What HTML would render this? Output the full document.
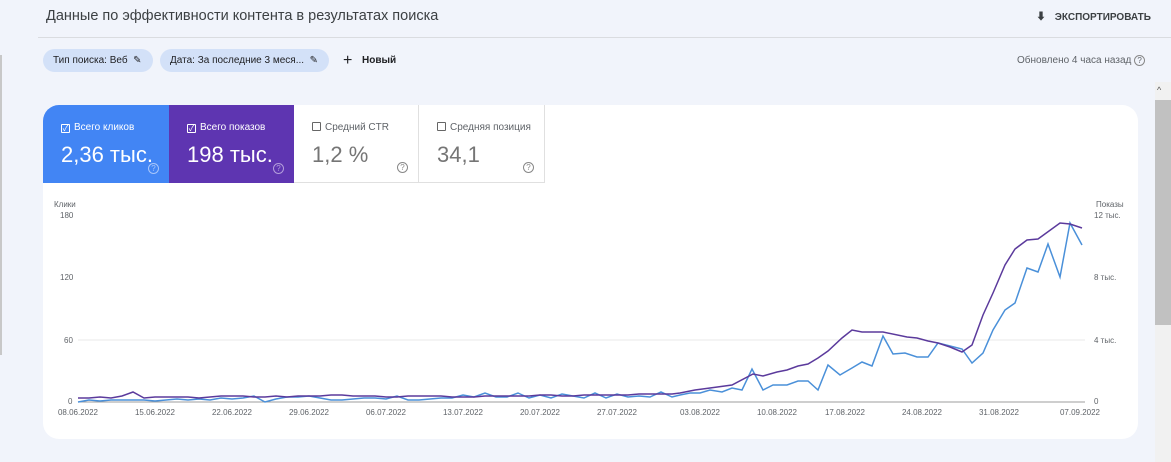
<!DOCTYPE html>
<html><head><meta charset="utf-8">
<style>
*{margin:0;padding:0;box-sizing:border-box}
body{width:1171px;height:462px;background:#f1f4fb;font-family:"Liberation Sans","Noto Sans CJK SC",sans-serif;position:relative;overflow:hidden;color:#3c4043}
.abs{position:absolute}
.chip{position:absolute;top:49px;height:23px;background:#d3e1f8;border-radius:12px;font-size:10px;line-height:23px;padding-left:10px;color:#202124}
.tile{position:absolute;top:105px;height:78px;width:125px}
.tile .lab{position:absolute;left:18px;top:17px;font-size:10px}
.tile .val{position:absolute;left:18px;top:37px;font-size:22px}
.cb{display:inline-block;width:9px;height:9px;border:1px solid;border-radius:1px;vertical-align:-1px;margin-right:4px;position:relative;font-size:8px;line-height:7px;text-align:center}
.q{position:absolute;right:10px;bottom:9px;width:11px;height:11px;border:1px solid;border-radius:50%;font-size:8px;line-height:9px;text-align:center}
.tick{position:absolute;font-size:8px;color:#5f6368}
</style></head><body>
<div class="abs" style="left:0;top:55px;width:2px;height:300px;background:#c8c8c8"></div>
<div class="abs" style="left:46px;top:8px;font-size:14.5px;color:#3c4043">Данные по эффективности контента в результатах поиска</div>
<div class="abs" style="left:1036px;top:8px;font-size:10px;font-weight:bold;color:#3c4043">⬇ <span style="margin-left:6px">ЭКСПОРТИРОВАТЬ</span></div>
<div class="abs" style="left:38px;top:37px;width:1133px;height:1px;background:#dadce0"></div>
<div class="chip" style="left:43px;width:110px">Тип поиска: Веб &nbsp;✎</div>
<div class="chip" style="left:160px;width:169px">Дата: За последние 3 меся... &nbsp;✎</div>
<div class="abs" style="left:343px;top:52px;font-size:16px;color:#202124">+</div>
<div class="abs" style="left:362px;top:55px;font-size:10px;font-weight:bold;color:#202124">Новый</div>
<div class="abs" style="left:1017px;top:55px;font-size:10px;color:#5f6368">Обновлено 4 часа назад <span style="display:inline-block;width:11px;height:11px;border:1px solid #888;border-radius:50%;font-size:8px;line-height:9px;text-align:center">?</span></div>
<div class="abs" style="left:1155px;top:82px;width:16px;height:380px;background:#f1f1f1"></div>
<div class="abs" style="left:1157px;top:85px;font-size:9px;color:#555">^</div>
<div class="abs" style="left:1155px;top:100px;width:16px;height:225px;background:#c1c1c1"></div>
<div class="abs" style="left:43px;top:105px;width:1095px;height:334px;background:#fff;border-radius:16px"></div>
<div class="tile" style="left:43px;width:126px;background:#4285f4;color:#fff;border-top-left-radius:16px"><div class="lab"><span class="cb" style="border-color:#fff">✓</span>Всего кликов</div><div class="val">2,36 тыс.</div><div class="q" style="border-color:#a8c6fa;color:#a8c6fa">?</div></div>
<div class="tile" style="left:169px;background:#5e35b1;color:#fff"><div class="lab"><span class="cb" style="border-color:#fff">✓</span>Всего показов</div><div class="val">198 тыс.</div><div class="q" style="border-color:#b39ddb;color:#b39ddb">?</div></div>
<div class="tile" style="left:294px;border-right:1px solid #e0e0e0;border-bottom:1px solid #e0e0e0;color:#5f6368"><div class="lab"><span class="cb" style="border-color:#666"></span>Средний CTR</div><div class="val" style="color:#757575">1,2 %</div><div class="q" style="border-color:#888;color:#888">?</div></div>
<div class="tile" style="left:419px;width:126px;border-right:1px solid #e0e0e0;border-bottom:1px solid #e0e0e0;color:#5f6368"><div class="lab"><span class="cb" style="border-color:#666"></span>Средняя позиция</div><div class="val" style="color:#757575">34,1</div><div class="q" style="border-color:#888;color:#888">?</div></div>
<div class="tick" style="left:54px;top:200px">Клики</div>
<div class="tick" style="left:60px;top:211px">180</div>
<div class="tick" style="left:60px;top:273px">120</div>
<div class="tick" style="left:64px;top:336px">60</div>
<div class="tick" style="left:68px;top:397px">0</div>
<div class="tick" style="left:1096px;top:200px">Показы</div>
<div class="tick" style="left:1094px;top:211px">12 тыс.</div>
<div class="tick" style="left:1094px;top:273px">8 тыс.</div>
<div class="tick" style="left:1094px;top:336px">4 тыс.</div>
<div class="tick" style="left:1094px;top:397px">0</div>
<svg class="abs" style="left:0;top:0" width="1171" height="462">
<line x1="78" y1="340" x2="1085" y2="340" stroke="#e8e8e8"/>
<line x1="78" y1="402" x2="1085" y2="402" stroke="#9e9e9e"/>
<g font-size="8" fill="#5f6368" text-anchor="middle" font-family="Liberation Sans">
<text x="78" y="415">08.06.2022</text><text x="155" y="415">15.06.2022</text><text x="232" y="415">22.06.2022</text><text x="309" y="415">29.06.2022</text><text x="386" y="415">06.07.2022</text><text x="463" y="415">13.07.2022</text><text x="540" y="415">20.07.2022</text><text x="617" y="415">27.07.2022</text><text x="700" y="415">03.08.2022</text><text x="777" y="415">10.08.2022</text><text x="845" y="415">17.08.2022</text><text x="922" y="415">24.08.2022</text><text x="999" y="415">31.08.2022</text><text x="1080" y="415">07.09.2022</text>
</g>
<polyline fill="none" stroke="#4a90d9" stroke-width="1.5" points="78,402 89,400 100,401 111,400 122,400 133,400 144,400 155,401 166,400 177,399 188,400 199,399 210,400 221,398 232,399 243,398 254,396 265,402 276,399 287,397 298,397 309,396 320,398 331,400 342,400 353,399 364,398 375,398 386,399 397,396 408,400 419,400 430,399 441,398 452,398 463,395 474,397 485,393 496,397 507,397 518,393 529,398 540,395 551,398 562,394 573,396 584,398 595,393 606,398 617,394 628,397 639,396 650,397 661,392 672,397 680,395 690,393 700,393 710,390 722,392 732,388 742,390 752,369 763,390 773,385 787,385 798,381 808,381 818,390 828,365 840,375 852,368 862,362 872,366 883,336 893,354 905,353 917,357 928,357 938,343 950,346 962,349 972,363 983,353 993,330 1005,310 1015,303 1027,268 1038,272 1048,244 1060,277 1070,223 1082,245"/>
<polyline fill="none" stroke="#5b3a9c" stroke-width="1.5" points="78,398 89,398 100,397 111,398 122,396 133,392 144,398 155,397 166,397 177,397 188,397 199,398 210,397 221,396 232,396 243,396 254,397 265,397 276,396 287,397 298,396 309,396 320,396 331,395 342,395 353,396 364,396 375,396 386,397 397,397 408,396 419,396 430,396 441,396 452,397 463,397 474,397 485,396 496,396 507,396 518,396 529,396 540,395 551,395 562,396 573,396 584,395 595,395 606,395 617,395 628,395 639,394 650,394 661,394 672,394 680,393 695,390 710,388 732,385 753,374 763,376 777,372 787,370 798,366 808,364 818,358 828,351 842,338 852,330 862,332 883,332 907,337 917,338 928,341 938,343 950,347 962,352 972,345 983,315 993,293 1005,265 1015,249 1027,240 1038,239 1060,223 1070,224 1082,228"/>
</svg>
</body></html>
